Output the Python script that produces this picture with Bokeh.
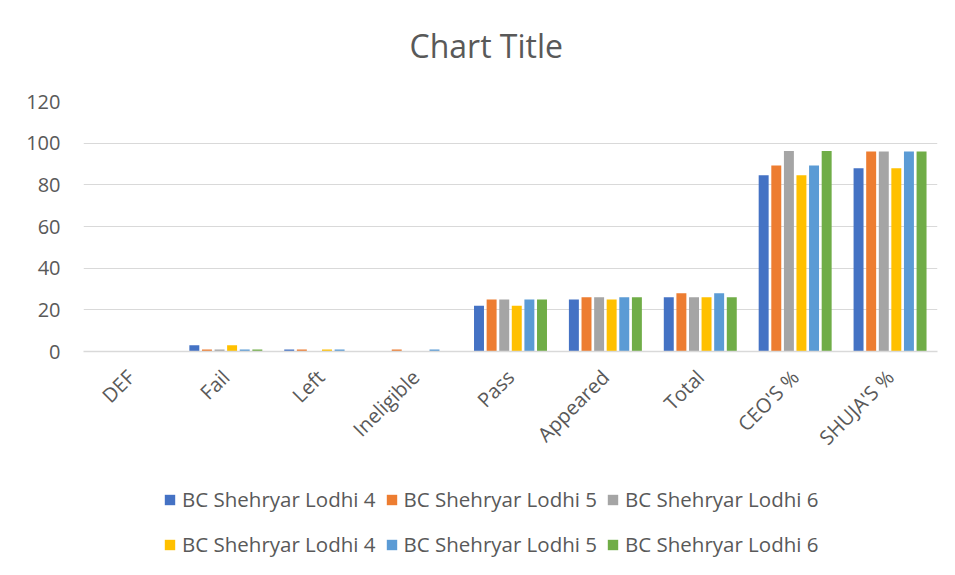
from bokeh.plotting import figure
from bokeh.models import FactorRange, Range1d, Legend, LegendItem, ColumnDataSource, SingleIntervalTicker, Label
from bokeh.transform import dodge
from bokeh.layouts import column
from bokeh.embed import file_html
from bokeh.resources import INLINE
import math

title_text = "Chart Title"
categories = ["DEF", "Fail", "Left", "Ineligible", "Pass", "Appeared", "Total", "CEO'S %", "SHUJA'S %"]
series_names = ["BC Shehryar Lodhi 4", "BC Shehryar Lodhi 5", "BC Shehryar Lodhi 6",
                "BC Shehryar Lodhi 4", "BC Shehryar Lodhi 5", "BC Shehryar Lodhi 6"]
s1 = [0, 3, 1, 0, 22, 25, 26, 84.6, 88]
s2 = [0, 1, 1, 1, 25, 26, 28, 89.3, 96]
s3 = [0, 1, 0, 0, 25, 26, 26, 96.2, 96]
s4 = [0, 3, 1, 0, 22, 25, 26, 84.6, 88]
s5 = [0, 1, 1, 1, 25, 26, 28, 89.3, 96]
s6 = [0, 1, 0, 0, 25, 26, 26, 96.2, 96]
colors = ["#4472C4", "#ED7D31", "#A5A5A5", "#FFC000", "#5B9BD5", "#70AD47"]

TXT = "#595959"
FONT = "Open Sans"

def blank_fig(h):
    f = figure(width=939, height=h, output_backend="svg", toolbar_location=None,
               x_range=Range1d(0, 1), y_range=Range1d(0, 1),
               min_border_left=0, min_border_right=0, min_border_top=0, min_border_bottom=0)
    f.axis.visible = False
    f.grid.visible = False
    f.outline_line_color = None
    return f

# title strip
tf = blank_fig(85)
tf.add_layout(Label(x=326, y=40, x_units="screen", y_units="screen", text=title_text,
                    text_font=FONT, text_font_size="32px", text_color=TXT,
                    text_align="left", text_baseline="alphabetic"))

# main chart
src = ColumnDataSource(dict(cat=categories, s1=s1, s2=s2, s3=s3, s4=s4, s5=s5, s6=s6))

p = figure(x_range=FactorRange(*categories, range_padding=0), y_range=Range1d(0, 120),
           width=939, height=385, output_backend="svg", toolbar_location=None,
           min_border_left=83, min_border_right=2, min_border_top=16, min_border_bottom=119)
p.x_range.range_padding = 0
p.outline_line_color = None

offsets = [-0.332, -0.199, -0.066, 0.066, 0.199, 0.332]
for i, key in enumerate(["s1", "s2", "s3", "s4", "s5", "s6"]):
    p.vbar(x=dodge("cat", offsets[i], range=p.x_range), top=key, width=0.105, source=src,
           fill_color=colors[i], line_color=None)

p.yaxis.ticker = SingleIntervalTicker(interval=20)
p.yaxis.axis_line_color = None
p.yaxis.major_tick_line_color = None
p.yaxis.minor_tick_line_color = None
p.yaxis.major_label_standoff = 17
p.yaxis.major_label_text_font = FONT
p.yaxis.major_label_text_font_size = "20px"
p.yaxis.major_label_text_color = TXT

p.xaxis.axis_line_color = "#D9D9D9"
p.xaxis.axis_line_width = 1.5
p.xaxis.major_tick_line_color = None
p.xaxis.minor_tick_line_color = None
p.xaxis.major_label_orientation = math.pi / 4
p.xaxis.major_label_standoff = 16
p.xaxis.major_label_text_font = FONT
p.xaxis.major_label_text_font_size = "20px"
p.xaxis.major_label_text_color = TXT

p.xgrid.grid_line_color = None
p.ygrid.grid_line_color = "#D9D9D9"
p.ygrid.grid_line_width = 1.2

# legend strip (holds only the legend; its swatch renderers sit outside the visible range)
lf = blank_fig(89)
swatch = ColumnDataSource(dict(x=[-5], top=[-5]))
leg_renderers = []
for i in range(6):
    r = lf.vbar(x="x", top="top", width=0.1, source=swatch, fill_color=colors[i], line_color=None)
    leg_renderers.append(r)

def make_legend(idx, loc):
    items = [LegendItem(label=series_names[i], renderers=[leg_renderers[i]]) for i in idx]
    return Legend(items=items, orientation="horizontal", location=loc,
                  padding=0, margin=0, spacing=9, glyph_width=13, glyph_height=13,
                  label_standoff=6, label_text_font=FONT, label_text_font_size="20.5px",
                  label_text_color=TXT, label_height=13, border_line_color=None,
                  background_fill_alpha=0)

lf.add_layout(make_legend([0, 1, 2], (80, 46)))
lf.add_layout(make_legend([3, 4, 5], (80, 1)))

layout = column(tf, p, lf, spacing=0)
open("out.html", "w").write(file_html(layout, INLINE))
